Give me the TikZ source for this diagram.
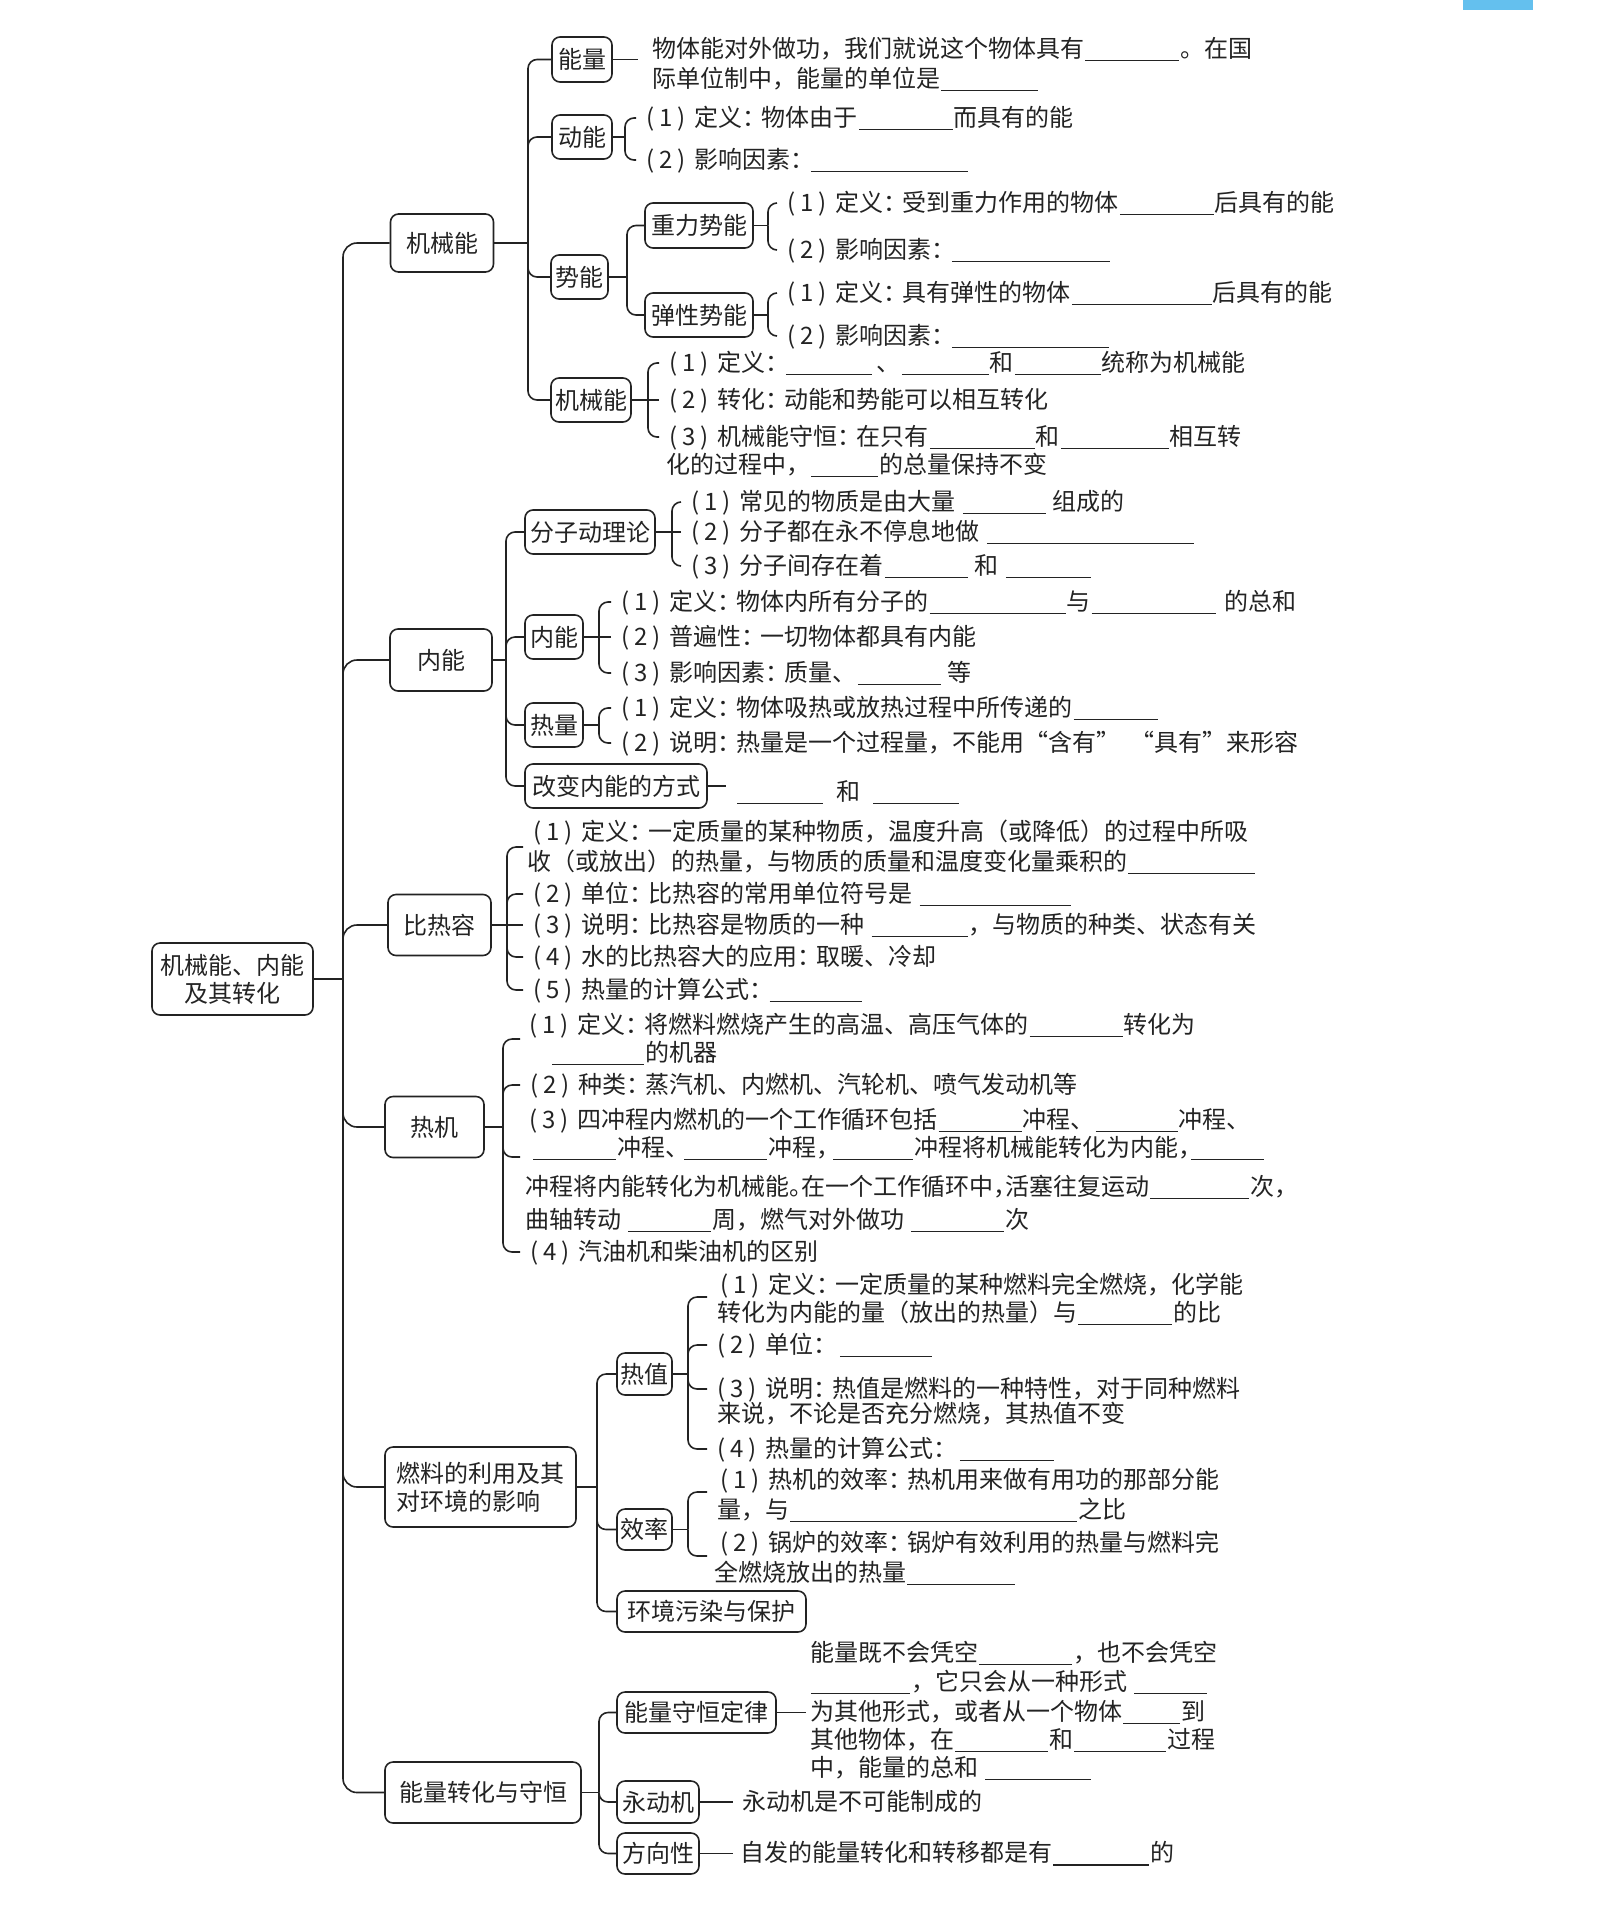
\documentclass[tikz,border=0pt]{standalone}
\usepackage{fontspec}
\setmainfont{Noto Sans CJK SC}
\usetikzlibrary{calc}
\definecolor{ink}{RGB}{35,35,35}
\definecolor{tabblue}{RGB}{100,192,238}
\newcommand\nm[1]{(\kern5pt#1\kern5pt)\kern9pt}
\newcommand\cl{：\kern-5pt}
\newcommand\bk[1]{\kern1pt\rule[-4pt]{#1pt}{1.2pt}\kern1pt}
\begin{document}
\begin{tikzpicture}[x=1pt,y=-1pt,line join=round,
  every node/.style={font=\fontsize{24}{28}\selectfont,text=ink},
  bx/.style 2 args={draw=ink,line width=1.6pt,rounded corners=8pt,inner sep=0pt,align=center,minimum width=#1pt,minimum height=#2pt},
  txt/.style={anchor=west,inner sep=0pt,text height=20pt,text depth=4pt},
  itm/.style={anchor=west,inner xsep=10pt,inner ysep=0pt,text height=20pt,text depth=4pt},
  conn/.style={draw=ink,line width=1.6pt,rounded corners=9pt},
  trunk/.style={conn,rounded corners=14pt}]
\useasboundingbox (0,0) rectangle (1611,1912);
\fill[tabblue] (1463,0) rectangle (1533,10);
% root
\node[bx={161}{72}] (root) at (232.5,979) {机械能、内能\\及其转化};
\coordinate (J0) at (343,979);
\draw[conn] (root.east) -- (J0);
\node[bx={103}{58}] (jxn) at (442,243) {机械能};
\node[bx={102}{62}] (nn) at (441,660) {内能};
\node[bx={103}{61}] (brr) at (439.5,925) {比热容};
\node[bx={99}{61}] (rj) at (434.5,1127) {热机};
\node[bx={191}{80},align=left] (rl) at (480.5,1487) {燃料的利用及其\\对环境的影响};
\node[bx={196}{61}] (nz) at (483,1792.5) {能量转化与守恒};
\foreach \n in {jxn,nn,brr,rj,rl,nz} \draw[trunk] (\n.west) -| (J0);
% ---------- section 1
\coordinate (J1) at (528,243);
\draw[conn] (jxn.east) -- (J1);
\node[bx={60}{45}] (nl) at (582,59.5) {能量};
\node[bx={60}{44}] (dn) at (582,137) {动能};
\node[bx={57}{44}] (sn) at (579.5,277) {势能};
\node[bx={80}{44}] (jx) at (591,400) {机械能};
\foreach \n in {nl,dn,sn,jx} \draw[conn] (\n.west) -| (J1);
\coordinate (nlE) at (638,59.5);
\draw[conn] (nl.east) -- (nlE);
\node[txt] (nlt1) at (652,49) {物体能对外做功，我们就说这个物体具有\bk{94}。在国};
\node[txt] (nlt2) at (652,79) {际单位制中，能量的单位是\bk{97}};
\coordinate (J11) at (625,137);
\draw[conn] (dn.east) -- (J11);
\node[itm] (dn1) at (636,118) {\nm{1}定义\cl 物体由于\bk{94}而具有的能};
\node[itm] (dn2) at (636,160) {\nm{2}影响因素\cl\bk{157}};
\foreach \n in {dn1,dn2} \draw[conn] (\n.west) -| (J11);
\coordinate (J12) at (627,277);
\draw[conn] (sn.east) -- (J12);
\node[bx={108}{45}] (zl) at (699,225.5) {重力势能};
\node[bx={108}{44}] (tx) at (699,315) {弹性势能};
\foreach \n in {zl,tx} \draw[conn] (\n.west) -| (J12);
\coordinate (J121) at (768,225.5);
\draw[conn] (zl.east) -- (J121);
\node[itm] (zl1) at (777,203) {\nm{1}定义\cl 受到重力作用的物体\bk{94}后具有的能};
\node[itm] (zl2) at (777,250) {\nm{2}影响因素\cl\bk{158}};
\foreach \n in {zl1,zl2} \draw[conn] (\n.west) -| (J121);
\coordinate (J122) at (768,315);
\draw[conn] (tx.east) -- (J122);
\node[itm] (tx1) at (777,293) {\nm{1}定义\cl 具有弹性的物体\bk{140}后具有的能};
\node[itm] (tx2) at (777,336) {\nm{2}影响因素\cl\bk{157}};
\foreach \n in {tx1,tx2} \draw[conn] (\n.west) -| (J122);
\coordinate (J13) at (648,400);
\draw[conn] (jx.east) -- (J13);
\node[itm] (jx1) at (659,363) {\nm{1}定义\cl\bk{86}\kern4pt、\bk{87}和\bk{86}统称为机械能};
\node[itm] (jx2) at (659,400) {\nm{2}转化\cl 动能和势能可以相互转化};
\node[itm] (jx3) at (659,437) {\nm{3}机械能守恒\cl 在只有\bk{105}和\bk{108}相互转};
\node[txt] (jx4) at (666,465) {化的过程中，\bk{67}的总量保持不变};
\foreach \n in {jx1,jx3} \draw[conn] (\n.west) -| (J13);
\draw[conn] (jx2.west) -- (J13);
% ---------- section 2
\coordinate (J2) at (506,660);
\draw[conn] (nn.east) -- (J2);
\node[bx={130}{44}] (fz) at (590,532) {分子动理论};
\node[bx={58}{44}] (nn2) at (554,637) {内能};
\node[bx={58}{44}] (rlg) at (554,725) {热量};
\node[bx={182}{44}] (gb) at (616,786) {改变内能的方式};
\foreach \n in {fz,nn2,rlg,gb} \draw[conn] (\n.west) -| (J2);
\coordinate (J21) at (672,532);
\draw[conn] (fz.east) -- (J21);
\node[itm] (fz1) at (681,502) {\nm{1}常见的物质是由大量\kern6pt\bk{83}\kern6pt 组成的};
\node[itm] (fz2) at (681,532) {\nm{2}分子都在永不停息地做\kern6pt\bk{207}};
\node[itm] (fz3) at (681,566) {\nm{3}分子间存在着\bk{83}\kern6pt 和\kern6pt\bk{85}};
\foreach \n in {fz1,fz3} \draw[conn] (\n.west) -| (J21);
\draw[conn] (fz2.west) -- (J21);
\coordinate (J22) at (599,637);
\draw[conn] (nn2.east) -- (J22);
\node[itm] (nx1) at (611,602) {\nm{1}定义\cl 物体内所有分子的\bk{136}与\bk{124}\kern8pt 的总和};
\node[itm] (nx2) at (611,637) {\nm{2}普遍性\cl 一切物体都具有内能};
\node[itm] (nx3) at (611,673) {\nm{3}影响因素\cl 质量、\bk{83}\kern6pt 等};
\foreach \n in {nx1,nx3} \draw[conn] (\n.west) -| (J22);
\draw[conn] (nx2.west) -- (J22);
\coordinate (J23) at (599,725);
\draw[conn] (rlg.east) -- (J23);
\node[itm] (rq1) at (611,708) {\nm{1}定义\cl 物体吸热或放热过程中所传递的\bk{84}};
\node[itm] (rq2) at (611,743) {\nm{2}说明\cl 热量是一个过程量，不能用“含有”\kern10pt“具有”来形容};
\foreach \n in {rq1,rq2} \draw[conn] (\n.west) -| (J23);
\coordinate (gbE) at (726,786);
\draw[conn] (gb.east) -- (gbE);
\node[txt] (gbt) at (736,792) {\bk{86}\kern12pt 和\kern12pt\bk{86}};
% ---------- section 3
\coordinate (J3) at (507,925);
\draw[conn] (brr.east) -- (J3);
\coordinate (b1a) at (523,847);
\node[txt] (b11) at (533,832) {\nm{1}定义\cl 一定质量的某种物质，温度升高（或降低）的过程中所吸};
\node[txt] (b12) at (527,862) {收（或放出）的热量，与物质的质量和温度变化量乘积的\bk{127}};
\node[itm] (b2) at (523,894) {\nm{2}单位\cl 比热容的常用单位符号是\kern6pt\bk{151}};
\node[itm] (b3) at (523,925) {\nm{3}说明\cl 比热容是物质的一种\kern6pt\bk{96}，与物质的种类、状态有关};
\node[itm] (b4) at (523,957) {\nm{4}水的比热容大的应用\cl 取暖、冷却};
\node[itm] (b5) at (523,990) {\nm{5}热量的计算公式\cl\bk{92}};
\draw[conn] (b1a) -| (J3);
\foreach \n in {b2,b4,b5} \draw[conn] (\n.west) -| (J3);
\draw[conn] (b3.west) -- (J3);
% ---------- section 4
\coordinate (J4) at (503,1127);
\draw[conn] (rj.east) -- (J4);
\coordinate (r1a) at (520,1039);
\node[txt] (r11) at (529,1025) {\nm{1}定义\cl 将燃料燃烧产生的高温、高压气体的\bk{93}转化为};
\node[txt] (r12) at (551,1053) {\bk{92}的机器};
\node[itm] (r2) at (520,1085) {\nm{2}种类\cl 蒸汽机、内燃机、汽轮机、喷气发动机等};
\node[txt] (r31) at (529,1120) {\nm{3}四冲程内燃机的一个工作循环包括\bk{83}冲程、\bk{82}冲程、};
\node[txt] (r32) at (532,1148) {\bk{83}冲程、\kern-6pt\bk{83}冲程，\kern-8pt\bk{80}冲程将机械能转化为内能，\kern-12pt\bk{73}};
\coordinate (r3a) at (520,1157);
\node[txt] (r33) at (525,1187) {冲程将内能转化为机械能。\kern-12pt在一个工作循环中，\kern-12pt活塞往复运动\bk{99}次，};
\node[txt] (r34) at (525,1220) {曲轴转动\kern6pt\bk{83}周，燃气对外做功\kern6pt\bk{93}次};
\node[itm] (r4) at (520,1252) {\nm{4}汽油机和柴油机的区别};
\foreach \n in {r1a,r3a} \draw[conn] (\n) -| (J4);
\foreach \n in {r2,r4} \draw[conn] (\n.west) -| (J4);
% ---------- section 5
\coordinate (J5) at (597,1487);
\draw[conn] (rl.east) -- (J5);
\node[bx={55}{42}] (rz) at (644.5,1374) {热值};
\node[bx={55}{41}] (xl) at (644.5,1529.5) {效率};
\node[bx={189}{41}] (hj) at (711.5,1611.5) {环境污染与保护};
\foreach \n in {rz,xl,hj} \draw[conn] (\n.west) -| (J5);
\coordinate (J51) at (688,1374);
\draw[conn] (rz.east) -- (J51);
\coordinate (h1a) at (707,1297);
\node[txt] (h11) at (720,1285) {\nm{1}定义\cl 一定质量的某种燃料完全燃烧，化学能};
\node[txt] (h12) at (717,1313) {转化为内能的量（放出的热量）与\bk{94}的比};
\node[itm] (h2) at (707,1345) {\nm{2}单位\cl\kern6pt\bk{92}};
\node[itm] (h31) at (707,1389) {\nm{3}说明\cl 热值是燃料的一种特性，对于同种燃料};
\node[txt] (h32) at (717,1414) {来说，不论是否充分燃烧，其热值不变};
\node[itm] (h4) at (707,1449) {\nm{4}热量的计算公式\cl\kern6pt\bk{94}};
\draw[conn] (h1a) -| (J51);
\foreach \n in {h2,h31,h4} \draw[conn] (\n.west) -| (J51);
\coordinate (J52) at (688,1529.5);
\draw[conn] (xl.east) -- (J52);
\coordinate (x1a) at (707,1492);
\coordinate (x2a) at (707,1556);
\node[txt] (x11) at (720,1480) {\nm{1}热机的效率\cl 热机用来做有用功的那部分能};
\node[txt] (x12) at (717,1510) {量，与\bk{287}之比};
\node[txt] (x21) at (720,1543) {\nm{2}锅炉的效率\cl 锅炉有效利用的热量与燃料完};
\node[txt] (x22) at (714,1573) {全燃烧放出的热量\bk{108}};
\foreach \n in {x1a,x2a} \draw[conn] (\n) -| (J52);
% ---------- section 6
\coordinate (J6) at (599,1792.5);
\draw[conn] (nz.east) -- (J6);
\node[bx={159}{41}] (sh) at (696.5,1712.5) {能量守恒定律};
\node[bx={82}{42}] (yd) at (658,1802) {永动机};
\node[bx={82}{41}] (fx) at (658,1853.5) {方向性};
\foreach \n in {sh,yd,fx} \draw[conn] (\n.west) -| (J6);
\coordinate (shE) at (806,1712.5);
\draw[conn] (sh.east) -- (shE);
\node[txt] (s1) at (810,1653) {能量既不会凭空\bk{93}，也不会凭空};
\node[txt] (s2) at (810,1682) {\bk{99}，它只会从一种形式\kern6pt\bk{73}};
\node[txt] (s3) at (810,1712) {为其他形式，或者从一个物体\bk{57}到};
\node[txt] (s4) at (810,1740) {其他物体，在\bk{93}和\bk{92}过程};
\node[txt] (s5) at (810,1768) {中，能量的总和\kern6pt\bk{106}};
\coordinate (ydE) at (733,1802);
\draw[conn] (yd.east) -- (ydE);
\node[txt] (ydt) at (742,1802) {永动机是不可能制成的};
\coordinate (fxE) at (733,1853.5);
\draw[conn] (fx.east) -- (fxE);
\node[txt] (fxt) at (740,1853.5) {自发的能量转化和转移都是有\bk{96}的};
\end{tikzpicture}
\end{document}
